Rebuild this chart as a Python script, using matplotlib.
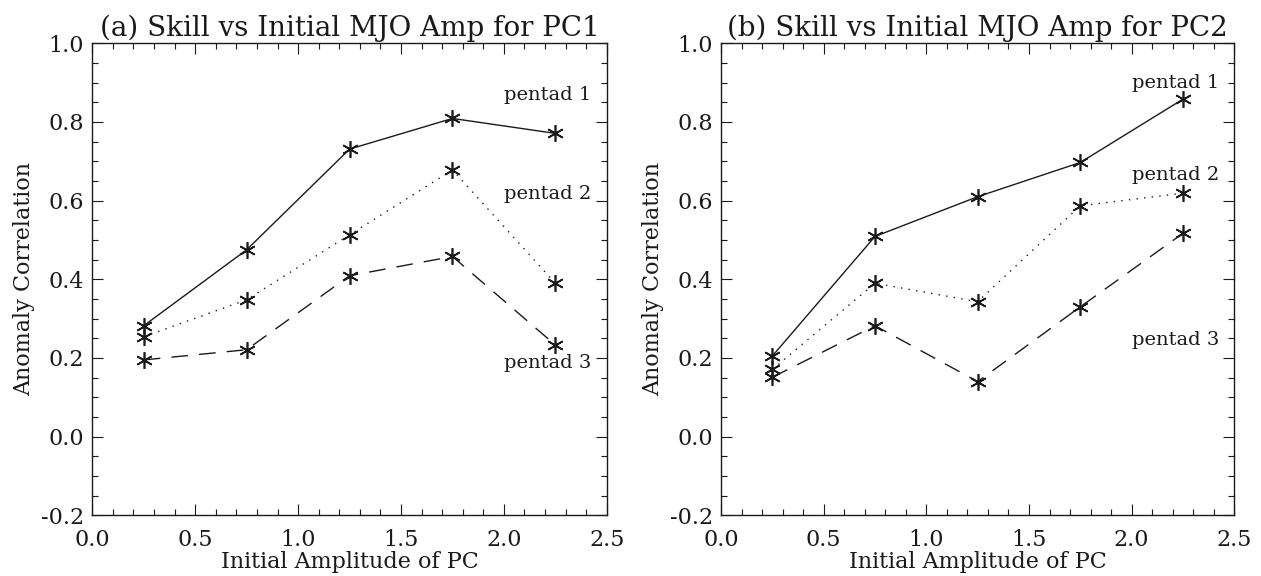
import numpy as np
import matplotlib
matplotlib.use("Agg")
import matplotlib.pyplot as plt
from matplotlib.ticker import MultipleLocator, FormatStrFormatter

plt.rcParams['font.family'] = ['DejaVu Serif']
plt.rcParams['mathtext.fontset'] = 'dejavuserif'

# Initial amplitude bins
amp = [0.25, 0.75, 1.25, 1.75, 2.25]

# (a) PC1 skill
pc1_pentad1 = [0.282, 0.475, 0.731, 0.809, 0.771]
pc1_pentad2 = [0.254, 0.348, 0.513, 0.678, 0.390]
pc1_pentad3 = [0.195, 0.221, 0.409, 0.458, 0.233]

# (b) PC2 skill
pc2_pentad1 = [0.205, 0.509, 0.610, 0.697, 0.858]
pc2_pentad2 = [0.171, 0.390, 0.343, 0.587, 0.619]
pc2_pentad3 = [0.151, 0.282, 0.140, 0.330, 0.517]

titles = ['(a) Skill vs Initial MJO Amp for PC1',
          '(b) Skill vs Initial MJO Amp for PC2']
label_names = ['pentad 1', 'pentad 2', 'pentad 3']
# label y positions (data units)
pc1_label_y = [0.869, 0.617, 0.187]
pc2_label_y = [0.898, 0.665, 0.246]

fig = plt.figure(figsize=(12.61, 5.76), dpi=100)
ax1 = fig.add_axes([0.0732, 0.1054, 0.408, 0.8194])
ax2 = fig.add_axes([0.5718, 0.1054, 0.407, 0.8194])

col = '#1a1a1a'
styles = ['-', (0, (1, 4.5)), (0, (12, 8))]
marker = (6, 2, 0)

for ax, series, ly, title in [
        (ax1, [pc1_pentad1, pc1_pentad2, pc1_pentad3], pc1_label_y, titles[0]),
        (ax2, [pc2_pentad1, pc2_pentad2, pc2_pentad3], pc2_label_y, titles[1])]:
    for s, ls in zip(series, styles):
        ax.plot(amp, s, linestyle=ls, color=col, linewidth=1.0,
                marker=marker, markersize=12, markeredgewidth=1.2,
                markeredgecolor=col)
    for name, y in zip(label_names, ly):
        ax.text(2.0, y, name, fontsize=14, color=col, va='center', ha='left')

    ax.set_xlim(0, 2.5)
    ax.set_ylim(-0.2, 1.0)
    ax.xaxis.set_major_locator(MultipleLocator(0.5))
    ax.xaxis.set_minor_locator(MultipleLocator(0.1))
    ax.yaxis.set_major_locator(MultipleLocator(0.2))
    ax.yaxis.set_minor_locator(MultipleLocator(0.05))
    ax.xaxis.set_major_formatter(FormatStrFormatter('%.1f'))
    ax.yaxis.set_major_formatter(FormatStrFormatter('%.1f'))
    ax.tick_params(which='both', direction='in', top=True, right=True,
                   labelsize=16, colors=col, width=0.8)
    ax.tick_params(which='major', length=8)
    ax.tick_params(axis='x', which='major', pad=10)
    ax.tick_params(axis='y', which='major', pad=6)
    ax.tick_params(which='minor', length=4.5)
    for sp in ax.spines.values():
        sp.set_linewidth(1.0)
        sp.set_color(col)

    ax.set_title(title, fontsize=20, color=col, pad=5)
    ax.set_xlabel('Initial Amplitude of PC', fontsize=16, color=col, labelpad=0)
    ax.set_ylabel('Anomaly Correlation', fontsize=16, color=col, labelpad=4)

fig.savefig('out.png', dpi=100)
